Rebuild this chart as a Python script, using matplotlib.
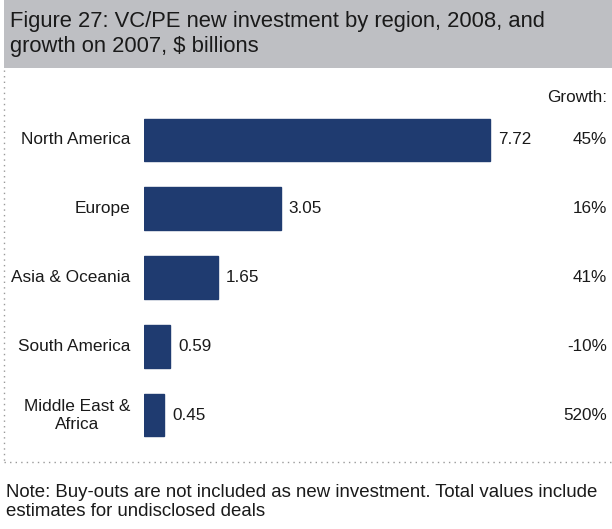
import matplotlib.pyplot as plt
from matplotlib.patches import Rectangle
from matplotlib.lines import Line2D

plt.rcParams['font.family'] = ['Liberation Sans', 'DejaVu Sans']

regions = ['North America', 'Europe', 'Asia & Oceania', 'South America', 'Middle East &\nAfrica']
investment = [7.72, 3.05, 1.65, 0.59, 0.45]
growth = ['45%', '16%', '41%', '-10%', '520%']

W, H = 612, 529
fig = plt.figure(figsize=(W / 100, H / 100), dpi=100)

def fx(px):
    return px / W

def fy(py):
    return 1 - py / H

# title box
fig.patches.append(Rectangle((fx(4), fy(68)), 1, 68 / H, transform=fig.transFigure,
                             facecolor='#bebfc3', edgecolor='none', zorder=0))
fig.text(fx(10), fy(34), 'Figure 27: VC/PE new investment by region, 2008, and\ngrowth on 2007, $ billions',
         fontsize=15.8, va='center', ha='left', linespacing=1.2, color='#1a1a1a')

# dotted frame
fig.add_artist(Line2D([fx(4), fx(4)], [fy(70), fy(462)], transform=fig.transFigure,
                      color='#999999', lw=1.0, ls=(0, (1, 3))))
fig.add_artist(Line2D([fx(4), 1], [fy(462), fy(462)], transform=fig.transFigure,
                      color='#999999', lw=1.0, ls=(0, (1, 3))))

# bars
px_per_unit = 44.8
ax_left, ax_top, ax_bottom = 144, 105.6, 449.4
ax = fig.add_axes([fx(ax_left), fy(ax_bottom), 1 - fx(ax_left), (ax_bottom - ax_top) / H])
ypos = list(range(len(regions)))
ax.barh(ypos, investment, height=0.62, color='#1f3b70', edgecolor='#1f3b70')
ax.set_xlim(0, (W - ax_left) / px_per_unit)
ax.set_ylim(len(regions) - 0.5, -0.5)
ax.axis('off')

for y, v, g, r in zip(ypos, investment, growth, regions):
    ax.text(v + 0.18, y, f'{v:.2f}', va='center', ha='left', fontsize=12.3, color='#1a1a1a')
    ax.text(-0.3, y, r, va='center', ha='right', fontsize=12.4, color='#1a1a1a',
            multialignment='center', linespacing=1.25)
    ax.text(0.99, y, g, transform=ax.get_yaxis_transform(), va='center', ha='right',
            fontsize=12.3, color='#1a1a1a')

fig.text(fx(607), fy(97), 'Growth:', ha='right', va='center', fontsize=12.3, color='#1a1a1a')

fig.text(fx(6), fy(502), 'Note: Buy-outs are not included as new investment. Total values include\nestimates for undisclosed deals',
         ha='left', va='center', fontsize=13.4, linespacing=1.2, color='#1a1a1a')

fig.savefig('out.png', dpi=100)
